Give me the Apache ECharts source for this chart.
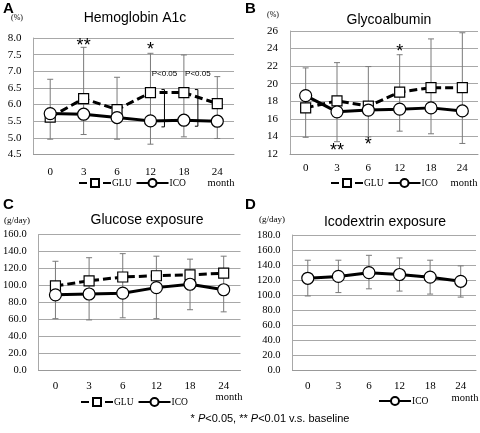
<!DOCTYPE html>
<html><head><meta charset="utf-8">
<script src="https://cdn.jsdelivr.net/npm/echarts@6/dist/echarts.min.js"></script>
<style>html,body{margin:0;padding:0;background:#fff}#c{width:480px;height:433px}</style>
</head><body><div id="c"></div>
<script>
const months = ['0', '3', '6', '12', '18', '24'];
// A: Hemoglobin A1c (%)
const a1cGLU = [5.62, 6.18, 5.85, 6.36, 6.36, 6.03];
const a1cICO = [5.73, 5.71, 5.61, 5.51, 5.53, 5.50];
const a1cErrHigh = [6.76, 7.72, 6.82, 7.54, 7.49, 6.84];
const a1cErrLow = [4.96, 5.10, 4.96, 4.81, 5.03, 4.98];
// B: Glycoalbumin (%)
const gaGLU = [17.25, 18.05, 17.45, 19.05, 19.55, 19.55];
const gaICO = [18.65, 16.8, 17.0, 17.1, 17.25, 16.9];
const gaErrHigh = [21.8, 22.4, 21.95, 23.3, 25.1, 25.8];
const gaErrLow = [13.9, 13.4, 13.95, 14.6, 14.3, 13.2];
// C: Glucose exposure (g/day)
const geGLU = [99.5, 105.5, 110, 111.5, 112.5, 114.5];
const geICO = [89, 90, 91, 97.5, 101.5, 95];
const geErrHigh = [128.5, 132.7, 137.5, 134.5, 131, 134.5];
const geErrLow = [61, 59.5, 62, 61, 71.5, 69];
// D: Icodextrin exposure (g/day)
const ieICO = [122.5, 125, 130, 127.5, 124, 118.5];
const ieErrHigh = [146.5, 146.5, 153, 149.5, 146.5, 139];
const ieErrLow = [99, 103.5, 108.5, 105.5, 101.5, 97.5];

const yTicksA = {min: 4.5, max: 8.0, interval: 0.5};
const yTicksB = {min: 12, max: 26, interval: 2};
const yTicksC = {min: 0, max: 160, interval: 20};
const yTicksD = {min: 0, max: 180, interval: 20};

const SERIF = '"Liberation Serif", "DejaVu Serif", serif';
const SANS = '"Liberation Sans", Arial, sans-serif';
const GRID_C = '#a8a8a8';

const chart = echarts.init(document.getElementById('c'));

const grids = [
  {left: 33.5, top: 38, width: 200.5, height: 116.5},
  {left: 290, top: 31, width: 188, height: 123},
  {left: 34.5, top: 234.5, width: 206, height: 136},
  {left: 292.5, top: 235, width: 183.5, height: 135.5}
];
const yt = [yTicksA, yTicksB, yTicksC, yTicksD];
const xMargins = [12, 9, 10, 10];

function errSeries(i, low, high) {
  return {
    type: 'custom', xAxisIndex: i, yAxisIndex: i, silent: true, z: 1,
    data: months.map((m, j) => [j, low[j], high[j]]),
    encode: {x: 0, y: [1, 2]},
    renderItem: function (params, api) {
      const hi = api.coord([api.value(0), api.value(2)]);
      const lo = api.coord([api.value(0), api.value(1)]);
      const hw = 3;
      const st = {stroke: '#7a7a7a', lineWidth: 1};
      return {type: 'group', children: [
        {type: 'line', shape: {x1: hi[0], y1: hi[1], x2: lo[0], y2: lo[1]}, style: st},
        {type: 'line', shape: {x1: hi[0] - hw, y1: hi[1], x2: hi[0] + hw, y2: hi[1]}, style: st},
        {type: 'line', shape: {x1: lo[0] - hw, y1: lo[1], x2: lo[0] + hw, y2: lo[1]}, style: st}
      ]};
    }
  };
}
function gluSeries(i, data) {
  return {
    name: 'GLU', type: 'line', xAxisIndex: i, yAxisIndex: i, data: data, z: 3,
    symbol: 'rect', symbolSize: 10, showAllSymbol: true,
    lineStyle: {color: '#000', width: 3, type: [8, 4]},
    itemStyle: {color: '#fff', borderColor: '#000', borderWidth: 1.2},
    animation: false
  };
}
function icoSeries(i, data) {
  return {
    name: 'ICO', type: 'line', xAxisIndex: i, yAxisIndex: i, data: data, z: 4,
    symbol: 'circle', symbolSize: 12, showAllSymbol: true,
    lineStyle: {color: '#000', width: 3, type: 'solid'},
    itemStyle: {color: '#fff', borderColor: '#000', borderWidth: 1.2},
    animation: false
  };
}

const option = {
  animation: false,
  grid: grids,
  xAxis: grids.map((g, i) => ({
    type: 'category', gridIndex: i, data: months, boundaryGap: true,
    axisTick: {show: false},
    axisLine: {lineStyle: {color: '#999', width: 1}},
    axisLabel: {color: '#000', fontFamily: SERIF, fontSize: 11, margin: xMargins[i]},
    splitLine: {show: false}
  })),
  yAxis: grids.map((g, i) => ({
    type: 'value', gridIndex: i, min: yt[i].min, max: yt[i].max, interval: yt[i].interval,
    axisTick: {show: false},
    axisLine: {show: true, lineStyle: {color: GRID_C, width: 1}},
    splitLine: {lineStyle: {color: GRID_C, width: 1}},
    axisLabel: {color: '#000', fontFamily: SERIF, fontSize: i < 2 ? 11 : 10.5, margin: 12,
      formatter: v => (i === 1 ? String(v) : v.toFixed(1))}
  })),
  legend: [
    {left: 78, top: 178, data: ['GLU', 'ICO']},
    {left: 330, top: 178, data: ['GLU', 'ICO']},
    {left: 80, top: 397, data: ['GLU', 'ICO']},
    {left: 378, top: 396, data: ['ICO']}
  ].map(l => Object.assign({
    itemWidth: 32, itemHeight: 10, itemGap: 4, padding: 0, selectedMode: false,
    textStyle: {fontFamily: SERIF, fontSize: 9.5, color: '#000', padding: [0, 0, 0, -4]}
  }, l)),
  series: [
    errSeries(0, a1cErrLow, a1cErrHigh), gluSeries(0, a1cGLU), icoSeries(0, a1cICO),
    errSeries(1, gaErrLow, gaErrHigh), gluSeries(1, gaGLU), icoSeries(1, gaICO),
    errSeries(2, geErrLow, geErrHigh), gluSeries(2, geGLU), icoSeries(2, geICO),
    errSeries(3, ieErrLow, ieErrHigh), icoSeries(3, ieICO)
  ]
};
chart.setOption(option);

function px(i, j, v) { return chart.convertToPixel({xAxisIndex: i, yAxisIndex: i}, [j, v]); }
function txt(x, y, text, size, family, extra) {
  return {type: 'text', x: x, y: y, z: 10, silent: true,
    style: Object.assign({text: text, fontSize: size, fontFamily: family, fill: '#000', align: 'center', verticalAlign: 'middle'}, extra || {})};
}
const g = [];
// panel letters
g.push(txt(3, 1, 'A', 15, SANS, {fontWeight: 'bold', align: 'left', verticalAlign: 'top'}));
g.push(txt(245, 1, 'B', 15, SANS, {fontWeight: 'bold', align: 'left', verticalAlign: 'top'}));
g.push(txt(3, 197, 'C', 15, SANS, {fontWeight: 'bold', align: 'left', verticalAlign: 'top'}));
g.push(txt(245, 197, 'D', 15, SANS, {fontWeight: 'bold', align: 'left', verticalAlign: 'top'}));
// titles
g.push(txt(135, 18, 'Hemoglobin A1c', 14, SANS));
g.push(txt(389, 20, 'Glycoalbumin', 14, SANS));
g.push(txt(147, 220, 'Glucose exposure', 14, SANS));
g.push(txt(385, 222, 'Icodextrin exposure', 14, SANS));
// units
g.push(txt(17, 18, '(%)', 8, SERIF));
g.push(txt(273, 15, '(%)', 8, SERIF));
g.push(txt(17, 221, '(g/day)', 9, SERIF));
g.push(txt(272, 220, '(g/day)', 9, SERIF));
// month
g.push(txt(221, 183, 'month', 10.5, SERIF));
g.push(txt(464, 183, 'month', 10.5, SERIF));
g.push(txt(229, 397, 'month', 10.5, SERIF));
g.push(txt(465, 398, 'month', 10.5, SERIF));
// significance marks
let p;
p = px(0, 1, a1cErrHigh[1]); g.push(txt(p[0], p[1] - 1, '**', 18, SANS));
p = px(0, 3, a1cErrHigh[3]); g.push(txt(p[0], p[1] - 3, '*', 18, SANS));
p = px(1, 3, gaErrHigh[3]); g.push(txt(p[0], p[1] - 3, '*', 18, SANS));
p = px(1, 1, gaErrLow[1]); g.push(txt(p[0], p[1] + 9, '**', 18, SANS));
p = px(1, 2, gaErrLow[2]); g.push(txt(p[0], p[1] + 8, '*', 18, SANS));
// brackets GLU vs ICO at 12 and 18 months
[3, 4].forEach(j => {
  const top = px(0, j, a1cGLU[j]);
  const bot = px(0, j, a1cICO[j]);
  const x = top[0] + 14;
  const y1 = top[1] - 3, y2 = bot[1] + 6;
  g.push({type: 'polyline', z: 10, silent: true,
    shape: {points: [[x - 3, y1], [x, y1], [x, y2], [x - 3, y2]]},
    style: {stroke: '#000', lineWidth: 1, fill: null}});
  g.push(txt(x, y1 - 16, 'P<0.05', 8, SANS));
});
// footnote
g.push({type: 'text', x: 270, y: 419, z: 10, silent: true,
  style: {text: '* {i|P}<0.05, ** {i|P}<0.01 v.s. baseline', fontSize: 11, fontFamily: SANS, fill: '#000',
    align: 'center', verticalAlign: 'middle',
    rich: {i: {fontStyle: 'italic', fontSize: 11, fontFamily: SANS, fill: '#000'}}}});
chart.setOption({graphic: g});
</script>
</body></html>
